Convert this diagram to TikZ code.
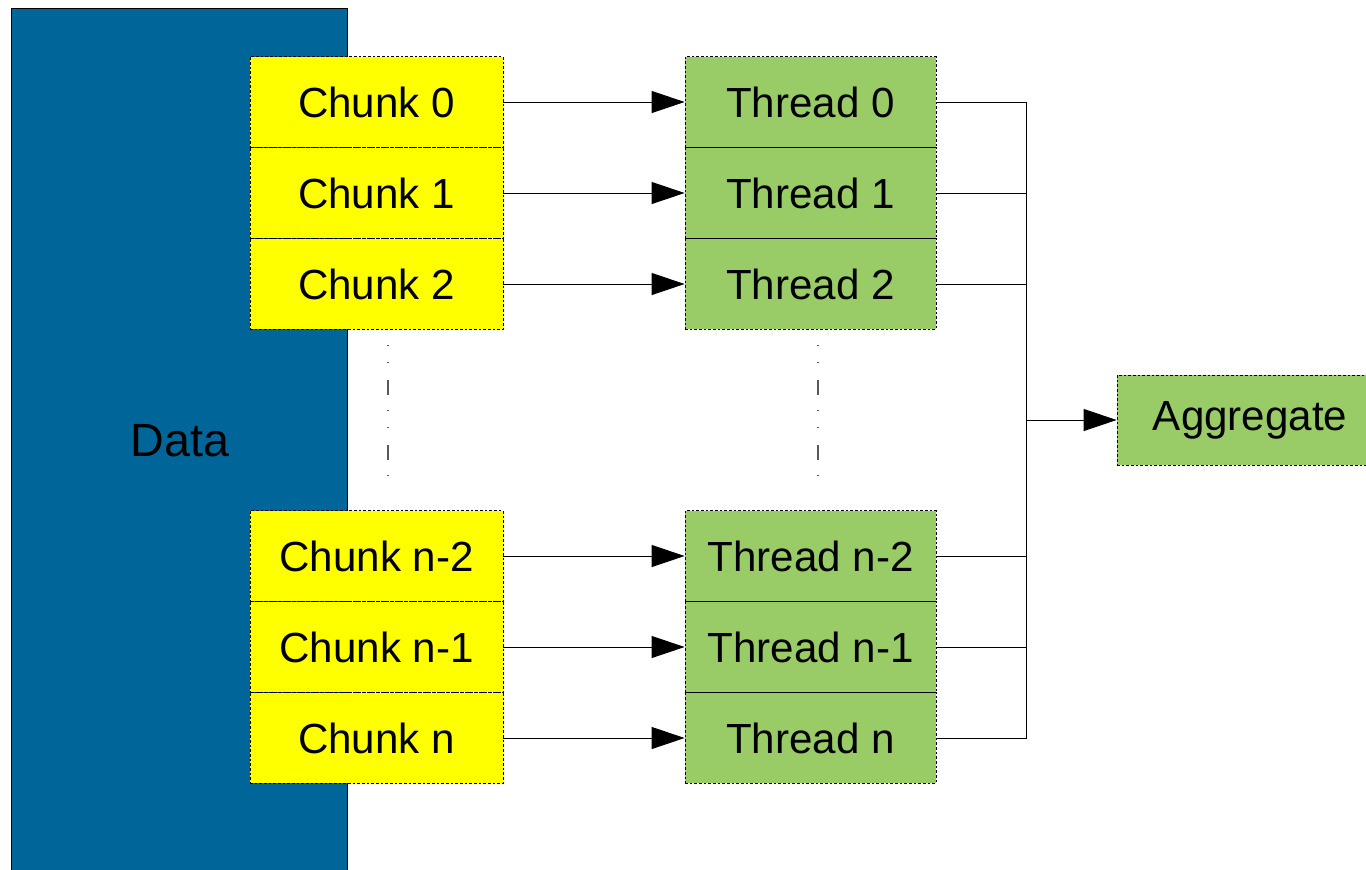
\documentclass[tikz,border=0pt]{standalone}
\usepackage{fontspec}
\setmainfont{Liberation Sans}
\usetikzlibrary{arrows.meta}
\definecolor{datablue}{RGB}{0,102,153}
\definecolor{chunkyellow}{RGB}{255,255,0}
\definecolor{threadgreen}{RGB}{153,204,102}
\begin{document}
\begin{tikzpicture}[x=0.75pt,y=-0.75pt,
  box/.style={draw=black,dashed,dash pattern=on 2pt off 1.5pt,line width=0.6pt,inner sep=0pt,
    minimum height=68pt,font=\fontsize{31.6}{36}\selectfont},
  chunkbox/.style={box,fill=chunkyellow,minimum width=189.75pt},
  threadbox/.style={box,fill=threadgreen,minimum width=188.25pt},
  conn/.style={line width=0.75pt,-{Triangle[length=24.75pt,width=16.5pt]}},
  gather/.style={line width=0.75pt},
  elide/.style={gray!70!black,line width=0.9pt,dash pattern=on 0.8pt off 12pt on 0.8pt off 12.7pt on 11pt off 11.4pt}
]
\useasboundingbox (0,0) rectangle (1366,869);
\node[draw=black,line width=0.75pt,fill=datablue,minimum width=252pt,minimum height=660pt,inner sep=0pt,anchor=north west]
  (data) at (11,8) {};
\node[font=\fontsize{35}{40}\selectfont] (datalabel) at (180,441) {Data};

\node[chunkbox] (c0) at (376.5,102) {Chunk 0};
\node[chunkbox] (c1) at (376.5,193) {Chunk 1};
\node[chunkbox] (c2) at (376.5,284) {Chunk 2};
\node[chunkbox] (c3) at (376.5,556) {Chunk n-2};
\node[chunkbox] (c4) at (376.5,647) {Chunk n-1};
\node[chunkbox] (c5) at (376.5,738) {Chunk n};

\node[threadbox] (t0) at (810.5,102) {Thread 0};
\node[threadbox] (t1) at (810.5,193) {Thread 1};
\node[threadbox] (t2) at (810.5,284) {Thread 2};
\node[threadbox] (t3) at (810.5,556) {Thread n-2};
\node[threadbox] (t4) at (810.5,647) {Thread n-1};
\node[threadbox] (t5) at (810.5,738) {Thread n};

\node[box,fill=threadgreen,minimum width=186.75pt,minimum height=67.5pt] (agg) at (1241.5,420) {\hspace*{13pt}Aggregate};

\foreach \i in {0,...,5} {
  \draw[conn] (c\i.east) -- (t\i.west);
  \draw[gather] (t\i.east) -| (1026,420);
}
\coordinate (j) at (1026,420);
\draw[conn] (j) -- (agg.west);

\coordinate (ea) at (388,345);
\coordinate (eb) at (388,478);
\coordinate (ec) at (818,345);
\coordinate (ed) at (818,478);
\draw[elide] (ea) -- (eb);
\draw[elide] (ec) -- (ed);
\end{tikzpicture}
\end{document}
